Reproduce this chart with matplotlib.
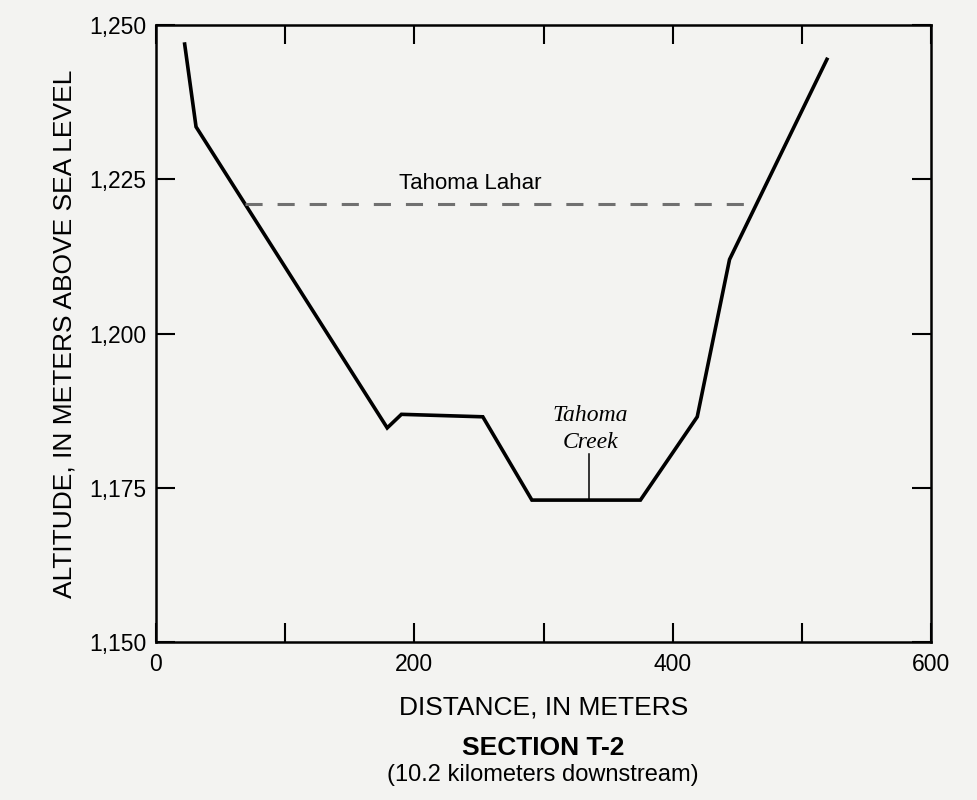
import matplotlib.pyplot as plt
import matplotlib as mpl

# cross-section profile (distance m, altitude m)
distance = [22, 31, 179, 190, 253, 291, 375, 419, 444, 520]
altitude = [1247.2, 1233.5, 1184.7, 1186.9, 1186.5, 1173.0, 1173.0, 1186.5, 1212.0, 1244.7]

# Tahoma Lahar level
lahar_x = [69, 458]
lahar_y = [1221, 1221]

# Tahoma Creek marker
creek_x = 335.5
creek_top = 1180.5

xticks = [0, 100, 200, 300, 400, 500, 600]
xticklabels = ['0', '', '200', '', '400', '', '600']
yticks = [1150, 1175, 1200, 1225, 1250]
yticklabels = ['1,150', '1,175', '1,200', '1,225', '1,250']

bg = '#f3f3f1'
mpl.rcParams['font.family'] = ['Liberation Sans', 'DejaVu Sans']

fig = plt.figure(figsize=(9.78, 8.0), dpi=100)
fig.patch.set_facecolor(bg)
ax = fig.add_axes([0.1595, 0.1975, 0.7925, 0.77125])
ax.set_facecolor(bg)

ax.plot(distance, altitude, color='black', lw=2.6, solid_joinstyle='miter', solid_capstyle='butt')
ax.plot(lahar_x, lahar_y, color='#707070', lw=2.2, dashes=(5.6, 4.9))
ax.plot([creek_x, creek_x], [1173.0, creek_top], color='black', lw=1.1)

ax.text(243, 1222.6, 'Tahoma Lahar', ha='center', va='bottom', fontsize=16)
ax.text(336, 1184.5, 'Tahoma\nCreek', ha='center', va='center', fontsize=17,
        family='Liberation Serif', style='italic', linespacing=1.35)

ax.set_xlim(0, 600)
ax.set_ylim(1150, 1250)
ax.set_xticks(xticks)
ax.set_xticklabels(xticklabels)
ax.set_yticks(yticks)
ax.set_yticklabels(yticklabels)
ax.tick_params(direction='in', length=14, width=1.5, top=True, right=True,
               labelsize=16.5, colors='black')
ax.tick_params(axis='x', pad=8)
ax.tick_params(axis='y', pad=7)
for s in ax.spines.values():
    s.set_linewidth(1.8)

ax.set_xlabel('DISTANCE, IN METERS', fontsize=19, labelpad=14)
ax.set_ylabel('ALTITUDE, IN METERS ABOVE SEA LEVEL', fontsize=19, labelpad=9)

fig.text(0.555, 0.065, 'SECTION T-2', ha='center', va='center', fontsize=19, weight='bold')
fig.text(0.555, 0.031, '(10.2 kilometers downstream)', ha='center', va='center', fontsize=17)

fig.savefig('out.png', dpi=100, facecolor=bg)
